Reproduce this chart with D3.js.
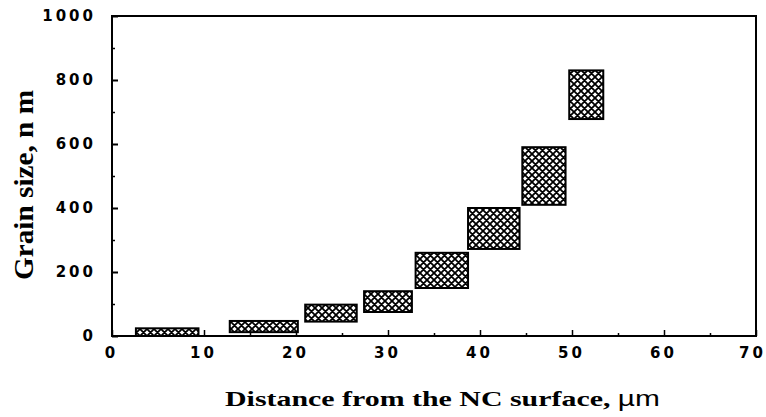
<!DOCTYPE html>
<html>
<head>
<meta charset="utf-8">
<script src="https://cdn.jsdelivr.net/npm/d3@7"></script>
<style>
  html, body { margin: 0; padding: 0; background: #fff; }
  svg { display: block; }
</style>
</head>
<body>
<svg id="chart" width="766" height="417"></svg>
<script>
// Data: grain size ranges (nm) over distance ranges (µm) from the NC surface
const xStart = [2.6, 12.8, 21.0, 27.4, 33.0, 38.7, 44.6, 49.7];
const xEnd   = [9.4, 20.2, 26.6, 32.6, 38.7, 44.3, 49.3, 53.4];
const yLow   = [0,   12,   45,   75,   150,  272,  410,  678];
const yHigh  = [24,  47,   98,   140,  260,  400,  590,  830];
const xTicks = [0, 10, 20, 30, 40, 50, 60, 70];
const xMinor = [5, 15, 25, 35, 45, 55, 65];
const yTicks = [0, 200, 400, 600, 800, 1000];
const yMinor = [100, 300, 500, 700, 900];

const svg = d3.select("#chart");
const x = d3.scaleLinear().domain([0, 70]).range([112, 756]);
const y = d3.scaleLinear().domain([0, 1000]).range([336, 16]);

// crosshatch pattern
const defs = svg.append("defs");
const P = 7;
const pat = defs.append("pattern")
  .attr("id", "hatch").attr("patternUnits", "userSpaceOnUse")
  .attr("width", P).attr("height", P);
pat.append("rect").attr("width", P).attr("height", P).attr("fill", "#fff");
pat.append("path")
  .attr("d", `M0,0L${P},${P}M0,${P}L${P},0M-1,${P-1}L1,${P+1}M${P-1},-1L${P+1},1M-1,1L1,-1M${P-1},${P+1}L${P+1},${P-1}`)
  .attr("stroke", "#000").attr("stroke-width", 1.8);

// frame
svg.append("rect")
  .attr("x", x(0)).attr("y", y(1000))
  .attr("width", x(70) - x(0)).attr("height", y(0) - y(1000))
  .attr("fill", "none").attr("stroke", "#000").attr("stroke-width", 2);

const tickFont = "'DejaVu Sans', sans-serif";

// y axis major
const gy = svg.append("g").attr("transform", `translate(${x(0)},0)`)
  .call(d3.axisLeft(y).tickValues(yTicks).tickSize(-6).tickPadding(16).tickFormat(d3.format("d")));
gy.select(".domain").remove();
gy.selectAll("line").attr("stroke", "#000").attr("stroke-width", 2);
gy.selectAll("text")
  .attr("font-family", tickFont).attr("font-weight", "bold").attr("font-size", 15)
  .attr("letter-spacing", "3px").attr("fill", "#000");
// y minor
const gym = svg.append("g").attr("transform", `translate(${x(0)},0)`)
  .call(d3.axisLeft(y).tickValues(yMinor).tickSize(-3).tickFormat(""));
gym.select(".domain").remove();
gym.selectAll("line").attr("stroke", "#000").attr("stroke-width", 1.5);

// x axis major
const gx = svg.append("g").attr("transform", `translate(0,${y(0)})`)
  .call(d3.axisBottom(x).tickValues(xTicks).tickSize(-6).tickPadding(11).tickFormat(d3.format("d")));
gx.select(".domain").remove();
gx.selectAll("line").attr("stroke", "#000").attr("stroke-width", 1.5);
gx.selectAll("text")
  .attr("font-family", tickFont).attr("font-weight", "bold").attr("font-size", 15)
  .attr("letter-spacing", "3px").attr("dx", d => d === 70 ? "-4px" : "-1px").attr("fill", "#000");
// x minor
const gxm = svg.append("g").attr("transform", `translate(0,${y(0)})`)
  .call(d3.axisBottom(x).tickValues(xMinor).tickSize(-3).tickFormat(""));
gxm.select(".domain").remove();
gxm.selectAll("line").attr("stroke", "#000").attr("stroke-width", 1.5);

// boxes
const idx = d3.range(xStart.length);
svg.append("g").selectAll("rect").data(idx).join("rect")
  .attr("x", i => x(xStart[i]))
  .attr("y", i => y(yHigh[i]))
  .attr("width", i => x(xEnd[i]) - x(xStart[i]))
  .attr("height", i => y(yLow[i]) - y(yHigh[i]))
  .attr("fill", "url(#hatch)")
  .attr("stroke", "#000").attr("stroke-width", 2);

// axis titles
const serif = "'Liberation Serif', 'Times New Roman', serif";
svg.append("text")
  .attr("transform", "translate(33,185) rotate(-90)")
  .attr("text-anchor", "middle")
  .attr("font-family", serif).attr("font-weight", "bold").attr("font-size", 27)
  .attr("textLength", 190).attr("lengthAdjust", "spacingAndGlyphs")
  .attr("fill", "#000")
  .text("Grain size, n m");

const xt = svg.append("text")
  .attr("x", 225).attr("y", 406)
  .attr("font-family", serif).attr("font-weight", "bold").attr("font-size", 22)
  .attr("textLength", 435).attr("lengthAdjust", "spacingAndGlyphs")
  .attr("fill", "#000");
xt.append("tspan").text("Distance from the NC surface, ");
xt.append("tspan").attr("font-family", "'Liberation Sans', Arial, sans-serif").attr("font-weight", "normal")
  .attr("font-size", 22).text("\u00b5m");
</script>
</body>
</html>
